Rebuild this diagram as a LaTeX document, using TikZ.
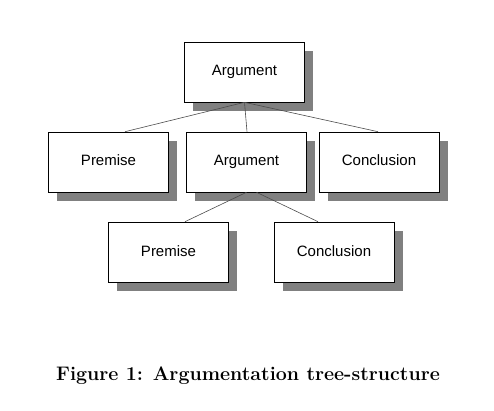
\documentclass[tikz,border=0pt]{standalone}
\usepackage{fontspec}
\newfontfamily\boxfont{Liberation Sans}
\usetikzlibrary{shadows}

\begin{document}
\begin{tikzpicture}[
    x=1pt, y=-1pt,
    part/.style={draw, fill=white, line width=0.6pt, minimum width=120pt, minimum height=60pt,
        text height=11pt, text depth=3pt,
        font=\boxfont\fontsize{15}{18}\selectfont,
        drop shadow={shadow xshift=8.5pt, shadow yshift=-9pt, fill=black!50, opacity=1}},
    link/.style={draw=black!70, line width=0.6pt}
]
\useasboundingbox (0,0) rectangle (494,411);

% Top
\node[part] (arg) at (244.5,72) {Argument};

% Middle row
\node[part] (prem1) at (108.5,162) {Premise};
\node[part] (arg2) at (246.5,162) {Argument};
\node[part] (concl1) at (379,162) {Conclusion};

% Bottom row
\node[part] (prem2) at (168.5,252) {Premise};
\node[part] (concl2) at (334,252) {Conclusion};

\draw[link] (arg.south) -- ([xshift=16.5pt]prem1.north);
\draw[link] (arg.south) -- ([xshift=0.5pt]arg2.north);
\draw[link] (arg.south) -- ([xshift=-1pt]concl1.north);
\draw[link] (arg2.south) -- ([xshift=16.5pt]prem2.north);
\draw[link] ([xshift=10pt]arg2.south) -- ([xshift=-16pt]concl2.north);

% Caption
\node[font=\fontsize{19.6}{24}\selectfont\bfseries] (cap) at (248,376) {Figure 1: Argumentation tree-structure};

\end{tikzpicture}
\end{document}
